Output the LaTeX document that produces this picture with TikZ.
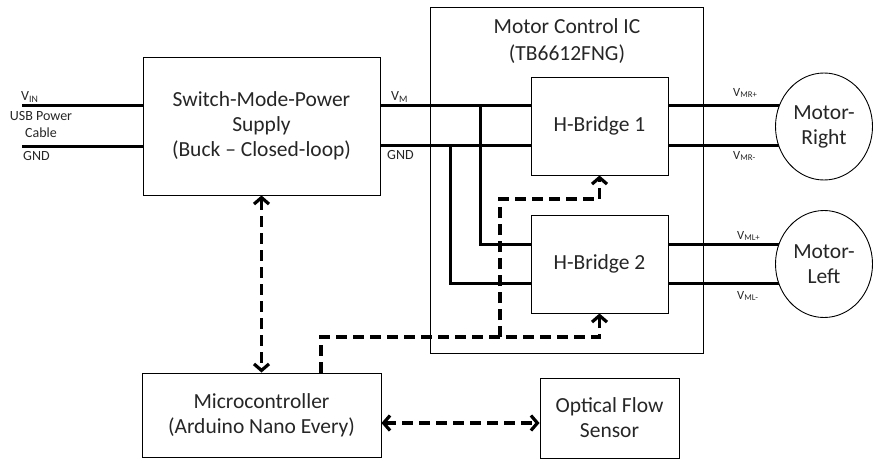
\documentclass[tikz,border=0pt]{standalone}
\usepackage{fontspec}
\setmainfont{Carlito}
\usetikzlibrary{arrows.meta,shapes.geometric}
\pgfdeclarelayer{bg}
\pgfsetlayers{bg,main}
\begin{document}
\begin{tikzpicture}[x=1pt,y=-1pt,
  blk/.style={draw, line width=0.9pt, rectangle, inner sep=0pt, align=center,
    text=black!85, font=\fontsize{21.5}{25}\selectfont},
  motor/.style={draw, line width=0.9pt, ellipse, fill=white, inner sep=0pt,
    minimum width=97pt, minimum height=107pt, align=center,
    text=black!85, font=\fontsize{21.5}{25}\selectfont},
  wire/.style={line width=3pt},
  ctl/.style={line width=3.2pt, dash pattern=on 11pt off 6pt,
    >={Straight Barb[length=6.5pt,width=15pt]}},
  lbl/.style={inner sep=0pt, text=black!85, font=\fontsize{14}{17}\selectfont},
  mlbl/.style={inner sep=0pt, text=black!85, font=\fontsize{12.5}{14}\selectfont},
]
\useasboundingbox (0,0) rectangle (873,464);

% blocks
\node[blk, minimum width=237pt, minimum height=138pt] (smps) at (261.5,126)
  {Switch-Mode-Power\\Supply\\(Buck -- Closed-loop)};
\node[draw, line width=0.9pt, minimum width=273pt, minimum height=346pt, inner sep=0pt]
  (ic) at (566.5,180) {};
\node[inner sep=0pt, align=center, text=black!85,
  font=\fontsize{21.5}{27}\selectfont] (ictitle) at (567,41)
  {Motor Control IC\\(TB6612FNG)};
\node[blk, minimum width=137pt, minimum height=98pt] (hb1) at (599.5,126) {H-Bridge 1};
\node[blk, minimum width=137pt, minimum height=98pt] (hb2) at (599.5,264) {H-Bridge 2};
\node[blk, minimum width=239pt, minimum height=84pt] (mcu) at (261.5,415)
  {Microcontroller\\(Arduino Nano Every)};
\node[blk, minimum width=139pt, minimum height=80pt] (ofs) at (609.5,418)
  {Optical Flow\\Sensor};
\node[motor] (motorR) at (824,126.5) {Motor-\\Right};
\node[motor] (motorL) at (824,264) {Motor-\\Left};

% rail heights and wire junctions
\coordinate (yVM) at (0,105);
\coordinate (yGND) at (0,145);
\coordinate (yA) at (0,244);
\coordinate (yB) at (0,283);
\coordinate (yC) at (0,423);
\coordinate (vin) at (22,105);
\coordinate (gin) at (22,146);
\coordinate (jVM) at (480,105);
\coordinate (jGND) at (450,145);
\coordinate (tap) at (321,337);
\coordinate (split) at (500,337);
\coordinate (bend1) at (500,199);

% power wiring
\begin{pgfonlayer}{bg}
\draw[wire] (vin) -- (vin -| smps.west);
\draw[wire] (gin) -- (gin -| smps.west);
\draw[wire] (smps.east |- yVM) -- (hb1.west |- yVM);
\draw[wire] (smps.east |- yGND) -- (hb1.west |- yGND);
\draw[wire] (jVM) |- (hb2.west |- yA);
\draw[wire] (jGND) |- (hb2.west |- yB);
\draw[wire] (hb1.east |- yVM) -- (motorR.center |- yVM);
\draw[wire] (hb1.east |- yGND) -- (motorR.center |- yGND);
\draw[wire] (hb2.east |- yA) -- (motorL.center |- yA);
\draw[wire] (hb2.east |- yB) -- (motorL.center |- yB);
\end{pgfonlayer}

% control signals
\draw[ctl, <->] (smps.south) -- (mcu.north);
\draw[ctl, ->] (mcu.north -| tap) -- (tap) -| (hb2.south);
\draw[ctl, ->] (split) -- (bend1) -| (hb1.south);
\draw[ctl, <->] (mcu.east |- yC) -- (ofs.west |- yC);

% labels
\node[lbl, anchor=base west] (lvin) at (21,100) {V\textsubscript{IN}};
\node[lbl, align=center] (lusb) at (41,125) {USB Power\\Cable};
\node[lbl, anchor=base west] (lgin) at (23,160.5) {GND};
\node[lbl, anchor=base west] (lvm) at (391,100) {V\textsubscript{M}};
\node[lbl, anchor=base west] (lgnd) at (387,159.5) {GND};
\node[mlbl, anchor=base west] (lmrp) at (733,96) {V\textsubscript{MR+}};
\node[mlbl, anchor=base west] (lmrm) at (733,159) {V\textsubscript{MR-}};
\node[mlbl, anchor=base west] (lmlp) at (737,239) {V\textsubscript{ML+}};
\node[mlbl, anchor=base west] (lmlm) at (737,299) {V\textsubscript{ML-}};
\end{tikzpicture}
\end{document}
